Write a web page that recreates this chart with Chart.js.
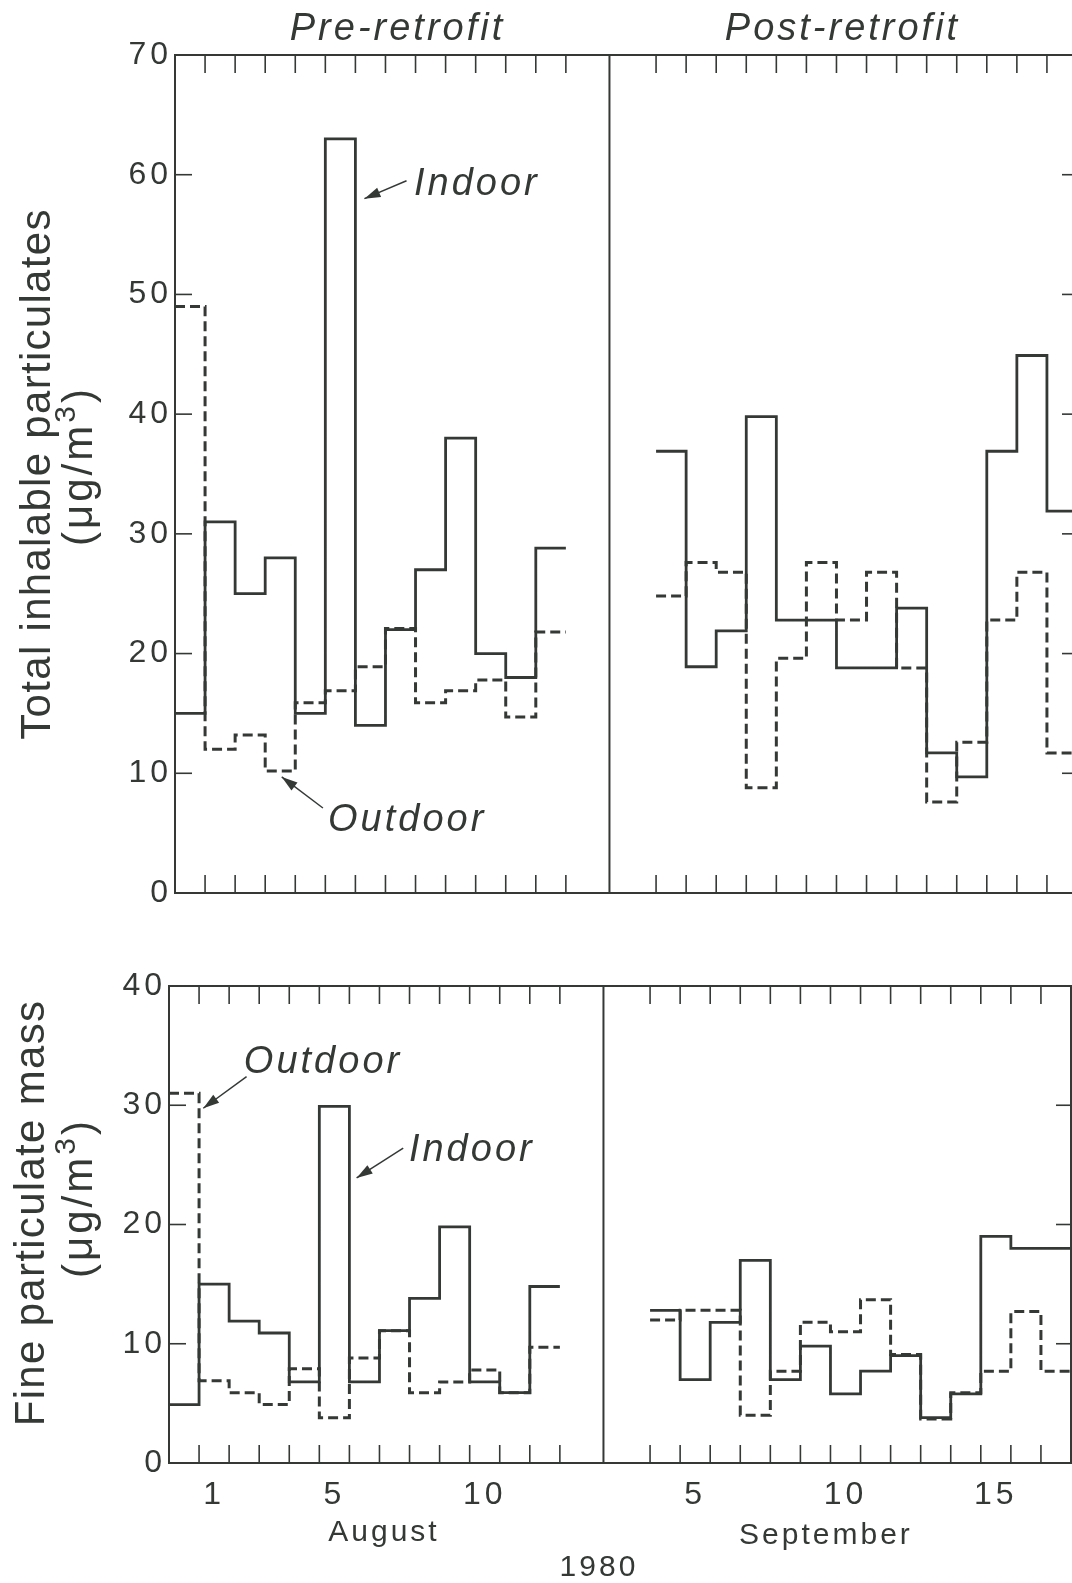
<!DOCTYPE html>
<html>
<head>
<meta charset="utf-8">
<script src="https://cdn.jsdelivr.net/npm/chart.js@4.4.0/dist/chart.umd.min.js"></script>
<style>
  html, body { margin: 0; padding: 0; background: #fff; width: 1072px; height: 1583px; overflow: hidden; position: relative; }
  canvas { position: absolute; left: 0; }
  #tip-chart { top: 0; }
  #fine-chart { top: 940px; }
</style>
</head>
<body>
<canvas id="tip-chart" width="1080" height="940"></canvas>
<canvas id="fine-chart" width="1072" height="643"></canvas>
<script>
// ── DATA ──
// August sampling days (0 = 31 July, the day left of "1") and September days
const augDays  = [0, 1, 2, 3, 4, 5, 6, 7, 8, 9, 10, 11, 12];
const septDays = [4, 5, 6, 7, 8, 9, 10, 11, 12, 13, 14, 15, 16, 17];

// total inhalable particulates (ug/m3)
const tipIndoorPre   = [15, 31, 25, 28, 15, 63, 14, 22, 27, 38, 20, 18, 28.8];
const tipOutdoorPre  = [49, 12, 13.2, 10.2, 15.9, 16.9, 18.9, 22.1, 15.9, 16.9, 17.8, 14.7, 21.8];
const tipIndoorPost  = [36.9, 18.9, 21.9, 39.8, 22.8, 22.8, 18.8, 18.8, 23.8, 11.7, 9.7, 36.9, 44.9, 31.9];
const tipOutdoorPost = [24.8, 27.6, 26.8, 8.8, 19.6, 27.6, 22.8, 26.8, 18.8, 7.6, 12.6, 22.8, 26.8, 11.7];

// fine particulate mass (ug/m3)
const fineIndoorPre   = [4.9, 15, 11.9, 10.9, 6.8, 29.9, 6.8, 11.1, 13.8, 19.8, 6.8, 5.9, 14.8];
const fineOutdoorPre  = [31, 6.9, 5.9, 4.9, 7.9, 3.8, 8.8, 11.1, 5.9, 6.8, 7.8, 5.9, 9.7];
const fineIndoorPost  = [12.8, 7, 11.8, 17, 7, 9.8, 5.8, 7.7, 9, 3.8, 5.8, 19, 18, 18];
const fineOutdoorPost = [12, 12.8, 12.8, 4, 7.7, 11.8, 11, 13.7, 9.1, 3.7, 5.9, 7.7, 12.7, 7.7];

// axis labels
const augLabelDays  = [1, 5, 10];
const septLabelDays = [5, 10, 15];
const monthNames = ['August', 'September'];
const yearLabel = '1980';
const periodNames = ['Pre-retrofit', 'Post-retrofit'];

// ── LAYOUT CONSTANTS ──
const SEPT_SHIFT = 12;      // September day d sits at d + 12 on the shared day axis
const DIVIDER = 14.45;      // line between the two periods
const X_MAX = 30;
const INK = '#343936';
const FONT = "'Liberation Sans', Arial, sans-serif";

const augTicks  = augDays.map(d => d + 1);                 // day boundaries
const septTicks = septDays.map(d => d + SEPT_SHIFT);
const dayTicks  = augTicks.concat(septTicks);
const xLabelPos  = augLabelDays.map(d => d + 0.5).concat(septLabelDays.map(d => d + SEPT_SHIFT + 0.5));
const xLabelText = augLabelDays.concat(septLabelDays).map(String);

function steps(days, values, shift) {
  const pts = days.map((d, i) => ({ x: d + shift, y: values[i] }));
  const last = pts[pts.length - 1];
  pts.push({ x: last.x + 1, y: last.y });
  return pts;
}

function series(values, days, shift, dashed) {
  return {
    data: steps(days, values, shift),
    borderColor: INK,
    borderWidth: dashed ? 3 : 2.8,
    borderDash: dashed ? [10, 5] : [],
    borderJoinStyle: 'miter',
    stepped: 'before',
    pointRadius: 0,
    fill: false
  };
}

// ── FRAME, TICKS, NOTES ──
function seg(ctx, x1, y1, x2, y2) {
  ctx.beginPath(); ctx.moveTo(x1, y1); ctx.lineTo(x2, y2); ctx.stroke();
}

function arrow(ctx, x1, y1, x2, y2) {
  seg(ctx, x1, y1, x2, y2);
  const ang = Math.atan2(y2 - y1, x2 - x1);
  const len = 16, half = 5;
  ctx.beginPath();
  ctx.moveTo(x2, y2);
  ctx.lineTo(x2 - len * Math.cos(ang) + half * Math.sin(ang), y2 - len * Math.sin(ang) - half * Math.cos(ang));
  ctx.lineTo(x2 - len * Math.cos(ang) - half * Math.sin(ang), y2 - len * Math.sin(ang) + half * Math.cos(ang));
  ctx.closePath();
  ctx.fill();
}

function unitLabel(ctx, cy, baseX) {
  // rotated "(ug/m3)" with superscript 3
  ctx.save();
  ctx.translate(baseX, cy);
  ctx.rotate(-Math.PI / 2);
  ctx.letterSpacing = '3px';
  const a = '(\u03bcg/m', b = ')';
  ctx.font = `30px ${FONT}`;
  const w3 = ctx.measureText('3').width;
  ctx.font = `42px ${FONT}`;
  const wa = ctx.measureText(a).width, wb = ctx.measureText(b).width;
  const x0 = -(wa + w3 + wb) / 2;
  ctx.textAlign = 'left';
  ctx.textBaseline = 'alphabetic';
  ctx.fillText(a, x0, 0);
  ctx.font = `30px ${FONT}`;
  ctx.fillText('3', x0 + wa, -17);
  ctx.font = `42px ${FONT}`;
  ctx.fillText(b, x0 + wa + w3, 0);
  ctx.restore();
}

const panelFrame = {
  id: 'panelFrame',
  beforeDraw(chart) { chart.ctx.letterSpacing = '4px'; },
  beforeDatasetsDraw(chart) {
    const { ctx, chartArea: a, scales: { x, y } } = chart;
    ctx.save();
    ctx.strokeStyle = INK;
    ctx.lineWidth = 2;
    ctx.strokeRect(a.left, a.top, a.right - a.left, a.bottom - a.top);
    const xd = x.getPixelForValue(DIVIDER);
    seg(ctx, xd, a.top, xd, a.bottom);
    ctx.lineWidth = 1.6;
    dayTicks.forEach(v => {
      const px = x.getPixelForValue(v);
      seg(ctx, px, a.top, px, a.top + 18);
      seg(ctx, px, a.bottom, px, a.bottom - 18);
    });
    y.ticks.forEach(t => {
      if (t.value <= y.min || t.value >= y.max) return;
      const py = y.getPixelForValue(t.value);
      seg(ctx, a.left, py, a.left + 17, py);
      seg(ctx, a.right, py, a.right - 15, py);
    });
    ctx.restore();
  },
  afterDraw(chart, args, opts) {
    const { ctx, chartArea: a, scales: { x, y } } = chart;
    ctx.save();
    ctx.fillStyle = INK;
    ctx.strokeStyle = INK;
    ctx.lineWidth = 1.5;

    // callouts
    ctx.font = `italic 38px ${FONT}`;
    ctx.letterSpacing = '3px';
    ctx.textAlign = 'left';
    ctx.textBaseline = 'alphabetic';
    (opts.notes || []).forEach(n => {
      ctx.fillText(n.text, x.getPixelForValue(n.at[0]), y.getPixelForValue(n.at[1]));
      arrow(ctx, x.getPixelForValue(n.tail[0]), y.getPixelForValue(n.tail[1]),
                 x.getPixelForValue(n.tip[0]), y.getPixelForValue(n.tip[1]));
    });

    // period headings
    if (opts.headings) {
      ctx.textAlign = 'center';
      ctx.font = `italic 38px ${FONT}`;
      ctx.fillText(periodNames[0], x.getPixelForValue(7.4), a.top - 15);
      ctx.fillText(periodNames[1], x.getPixelForValue(22.2), a.top - 15);
    }

    // month / year footer
    if (opts.footer) {
      ctx.textAlign = 'center';
      ctx.font = `30px ${FONT}`;
      ctx.letterSpacing = '3px';
      ctx.fillText(monthNames[0], x.getPixelForValue(7.15), a.bottom + 78);
      ctx.fillText(monthNames[1], x.getPixelForValue(21.85), a.bottom + 81);
      ctx.fillText(yearLabel, x.getPixelForValue(14.3), a.bottom + 113);
    }

    // y title
    ctx.save();
    ctx.translate(opts.titleX, opts.titleY);
    ctx.rotate(-Math.PI / 2);
    ctx.textAlign = 'center';
    ctx.font = `42px ${FONT}`;
    ctx.letterSpacing = '1.3px';
    ctx.fillText(opts.title, 0, 0);
    ctx.restore();
    unitLabel(ctx, opts.unitY, 92);
    ctx.restore();
  }
};

function panelChart(el, cfg) {
  return new Chart(el, {
    type: 'line',
    data: {
      datasets: [
        series(cfg.outPre, augDays, 0, true),
        series(cfg.outPost, septDays, SEPT_SHIFT, true),
        series(cfg.inPre, augDays, 0, false),
        series(cfg.inPost, septDays, SEPT_SHIFT, false)
      ]
    },
    options: {
      responsive: false,
      animation: false,
      events: [],
      layout: { padding: { top: cfg.top, right: cfg.right, left: 0, bottom: 0 } },
      plugins: {
        legend: { display: false },
        tooltip: { enabled: false },
        panelFrame: cfg.frame
      },
      scales: {
        x: {
          type: 'linear',
          min: 0,
          max: X_MAX,
          grid: { display: false, drawTicks: false },
          border: { display: false },
          afterFit: s => { s.height = cfg.xAxisH; },
          afterBuildTicks: s => { s.ticks = cfg.xLabels ? xLabelPos.map(v => ({ value: v })) : []; },
          ticks: {
            display: !!cfg.xLabels,
            autoSkip: false,
            maxRotation: 0,
            padding: 13,
            color: INK,
            font: { family: FONT, size: 32 },
            callback: (v, i) => xLabelText[i]
          }
        },
        y: {
          min: 0,
          max: cfg.yMax,
          grid: { display: false, drawTicks: false },
          border: { display: false },
          afterFit: s => { s.width = cfg.left; },
          ticks: {
            stepSize: 10,
            padding: 3,
            color: INK,
            font: { family: FONT, size: 32 }
          }
        }
      }
    },
    plugins: [panelFrame]
  });
}

// ── TOP: TOTAL INHALABLE PARTICULATES ──
panelChart(document.getElementById('tip-chart'), {
  inPre: tipIndoorPre, outPre: tipOutdoorPre, inPost: tipIndoorPost, outPost: tipOutdoorPost,
  yMax: 70, left: 175, top: 55, right: 3, xAxisH: 47, xLabels: false,
  frame: {
    headings: true,
    title: 'Total inhalable particulates', titleX: 50, titleY: 474, unitY: 466,
    notes: [
      { text: 'Indoor',  at: [7.95, 58.3], tail: [7.7, 59.5], tip: [6.3, 58.0] },
      { text: 'Outdoor', at: [5.09, 5.2],  tail: [4.92, 7.1], tip: [3.55, 9.7] }
    ]
  }
});

// ── BOTTOM: FINE PARTICULATE MASS ──
panelChart(document.getElementById('fine-chart'), {
  inPre: fineIndoorPre, outPre: fineOutdoorPre, inPost: fineIndoorPost, outPost: fineOutdoorPost,
  yMax: 40, left: 169, top: 46, right: 1, xAxisH: 120, xLabels: true,
  frame: {
    footer: true,
    title: 'Fine particulate mass', titleX: 44, titleY: 273, unitY: 258,
    notes: [
      { text: 'Outdoor', at: [2.49, 32.7], tail: [2.58, 32.4], tip: [1.14, 29.75] },
      { text: 'Indoor',  at: [7.98, 25.3], tail: [7.79, 26.4], tip: [6.24, 23.9] }
    ]
  }
});
</script>
</body>
</html>
